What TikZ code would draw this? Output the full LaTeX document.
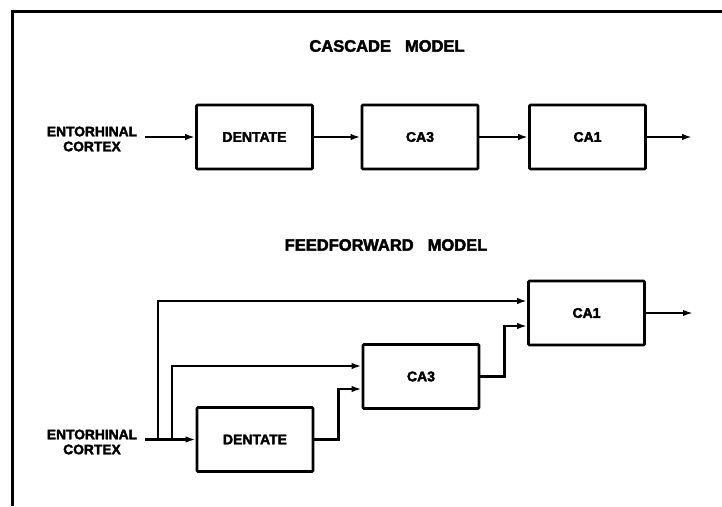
\documentclass[tikz,border=0pt]{standalone}
\usepackage{fontspec}
\setmainfont{Liberation Sans}
\newfontfamily\heavyfont{Liberation Sans}[UprightFont={* Bold}, UprightFeatures={FakeBold=2.5}]
\usetikzlibrary{arrows.meta}
\tikzset{
  boxnode/.style={draw, line width=2.8pt, minimum width=116pt, minimum height=64pt, inner sep=0pt, rounded corners=1pt,
    font=\heavyfont\fontsize{14}{15}\selectfont},
  labnode/.style={align=center, inner sep=0pt, font=\heavyfont\fontsize{13.8}{15}\selectfont},
  titlenode/.style={inner sep=0pt, font=\heavyfont\fontsize{16.5}{18}\selectfont},
  conn/.style={line width=2.5pt, -{Latex[length=10pt,width=6.5pt]}},
  frameline/.style={line width=3pt}
}
\begin{document}
\begin{tikzpicture}[x=1pt,y=-1pt]
\useasboundingbox (0,0) rectangle (722,506);
\draw[frameline] (12,506) -- (12,11) -- (722,11);

% Cascade model
\node[titlenode] (t1) at (387,46) {CASCADE\hspace{14pt}MODEL};
\node[labnode] (cec) at (92,139) {ENTORHINAL\\CORTEX};
\coordinate (cs) at (145,137);
\node[boxnode] (cd) at (254.5,137) {DENTATE};
\node[boxnode] (c3) at (420,137) {CA3};
\node[boxnode] (c1) at (587.5,137) {CA1};
\coordinate (cend) at (692,137);
\draw[conn] (cs) -- (cd);
\draw[conn] (cd) -- (c3);
\draw[conn] (c3) -- (c1);
\draw[conn] (c1) -- (cend);

% Feedforward model
\node[titlenode] (t2) at (386,245) {FEEDFORWARD\hspace{14pt}MODEL};
\node[labnode] (fec) at (92,442) {ENTORHINAL\\CORTEX};
\coordinate (fs) at (145,439.5);
\coordinate (b1) at (158,439.5);
\coordinate (b2) at (172,439.5);
\node[boxnode] (fd) at (255,439.5) {DENTATE};
\node[boxnode] (f3) at (421,376.5) {CA3};
\node[boxnode] (f1) at (586.5,313) {CA1};
\coordinate (fend) at (693,313);
\draw[conn] (fs) -- (fd);
\draw[conn] (b1) |- ([yshift=12pt]f1.west);
\draw[conn] (b2) |- ([yshift=10.5pt]f3.west);
\draw[conn] (fd.east) -- ++(24pt,0pt) |- ([yshift=-12.5pt]f3.west);
\draw[conn] (f3.east) -- ++(24pt,0pt) |- ([yshift=-13pt]f1.west);
\draw[conn] (f1) -- (fend);
\end{tikzpicture}
\end{document}
